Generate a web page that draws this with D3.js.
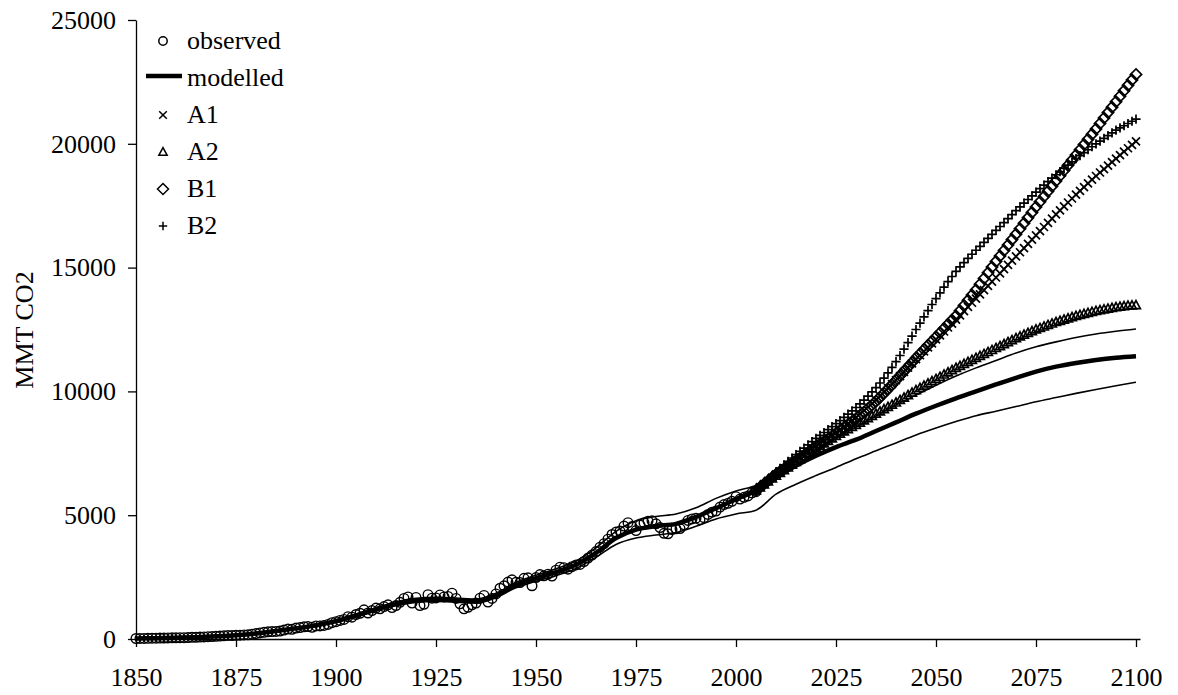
<!DOCTYPE html>
<html>
<head>
<meta charset="utf-8">
<script src="https://cdn.jsdelivr.net/npm/d3@7"></script>
<style>
body { margin: 0; background: #fff; }
text { font-family: "Liberation Serif", "Times New Roman", serif; }
</style>
</head>
<body>
<script>
// Observed emissions, one value per year starting 1850 (MMT CO2)
var observedStart = 1850;
var observed = [20,22,25,28,32,35,38,40,42,46,
    50,52,55,60,66,70,78,85,92,100,
    108,118,130,142,140,150,155,165,170,195,
    220,245,270,290,300,305,320,360,400,390,
    440,460,490,500,470,530,530,550,590,660,
    700,750,790,900,880,990,1040,1180,1050,1150,
    1250,1220,1310,1380,1270,1350,1480,1640,1700,1450,
    1680,1350,1400,1790,1650,1660,1780,1700,1720,1850,
    1640,1420,1220,1280,1380,1450,1650,1760,1490,1640,
    1820,2050,2150,2300,2390,2290,2280,2450,2470,2150,
    2480,2600,2550,2620,2540,2780,2900,2880,2820,2920,
    2990,3010,3130,3270,3390,3530,3710,3850,4030,4220,
    4320,4360,4560,4700,4540,4380,4600,4700,4760,4780,
    4650,4500,4270,4250,4420,4450,4460,4610,4790,4850,
    4880,4820,4900,5030,5120,5170,5330,5430,5480,5560,
    5750,5650,5720,5780,5900,5950];

// Modelled curve and its two bounds, every 5 years from 1850
var modelStart = 1850;
var modelStep = 5;
var modelled = [20,35,52,75,110,155,225,320,430,550,
    720,950,1200,1420,1560,1600,1570,1530,1760,2180,
    2450,2700,3000,3480,4080,4420,4560,4650,4930,5280,
    5650,6000,6550,7000,7400,7750,8050,8400,8750,9100,
    9420,9720,10000,10280,10550,10800,11000,11150,11270,11360,
    11420];
var upperBound = [25,40,58,82,120,168,242,342,458,585,
    765,1005,1265,1495,1640,1680,1650,1610,1850,2290,
    2570,2840,3150,3680,4350,4780,4950,5050,5300,5680,
    5980,6200,6650,7150,7650,8100,8550,9000,9450,9850,
    10250,10620,10950,11250,11550,11800,12000,12180,12320,12430,
    12520];
var lowerBound = [15,30,46,68,100,142,208,298,402,515,
    675,895,1135,1345,1480,1520,1490,1450,1670,2070,
    2330,2560,2850,3300,3820,4080,4200,4300,4550,4850,
    5050,5200,5850,6250,6600,6930,7280,7600,7920,8240,
    8520,8780,9020,9200,9390,9580,9750,9920,10080,10230,
    10370];

// Scenario projections, one value per year starting 2005
var scenarioStart = 2005;
var scenA1 = [6000,6130,6260,6390,6520, 6650,6770,6890,7010,7130,
    7250,7360,7470,7580,7690, 7800,7910,8020,8130,8240,
    8350,8470,8590,8710,8830, 8950,9090,9230,9370,9510,
    9650,9810,9970,10130,10290, 10450,10620,10790,10960,11130,
    11300,11460,11620,11780,11940, 12100,12260,12420,12580,12740,
    12900,13070,13240,13410,13580, 13750,13920,14090,14260,14430,
    14600,14770,14940,15110,15280, 15450,15620,15790,15960,16130,
    16300,16470,16640,16810,16980, 17150,17310,17470,17630,17790,
    17950,18100,18250,18400,18550, 18700,18840,18980,19120,19260,
    19400,19540,19680,19820,19960, 20100];
var scenA2 = [6000,6120,6240,6360,6480, 6600,6710,6820,6930,7040,
    7150,7260,7370,7480,7590, 7700,7800,7900,8000,8100,
    8200,8290,8380,8470,8560, 8650,8740,8830,8920,9010,
    9100,9190,9280,9370,9460, 9550,9650,9750,9850,9950,
    10050,10140,10230,10320,10410, 10500,10590,10680,10770,10860,
    10950,11030,11110,11190,11270, 11350,11430,11510,11590,11670,
    11750,11830,11910,11990,12070, 12150,12220,12290,12360,12430,
    12500,12560,12620,12680,12740, 12800,12850,12900,12950,13000,
    13050,13090,13130,13170,13210, 13250,13280,13310,13340,13370,
    13400,13420,13440,13460,13470, 13480];
var scenB1 = [6000,6130,6260,6390,6520, 6650,6760,6870,6980,7090,
    7200,7310,7420,7530,7640, 7750,7860,7970,8080,8190,
    8300,8420,8540,8660,8780, 8900,9030,9170,9310,9450,
    9600,9760,9930,10100,10270, 10450,10630,10810,10990,11170,
    11350,11520,11690,11860,12030, 12200,12370,12540,12710,12880,
    13050,13260,13470,13680,13890, 14100,14330,14560,14790,15020,
    15250,15470,15690,15910,16130, 16350,16570,16790,17010,17230,
    17450,17660,17870,18080,18290, 18500,18710,18920,19130,19340,
    19550,19760,19970,20180,20390, 20600,20820,21040,21260,21480,
    21700,21920,22140,22360,22580, 22800];
var scenB2 = [6000,6150,6300,6450,6600, 6750,6890,7030,7170,7310,
    7450,7580,7710,7840,7970, 8100,8220,8340,8460,8580,
    8700,8820,8950,9080,9210, 9350,9500,9650,9810,9980,
    10150,10340,10540,10750,10970, 11200,11450,11710,11970,12230,
    12500,12760,13010,13260,13510, 13750,13980,14210,14430,14640,
    14850,15030,15200,15370,15540, 15700,15860,16020,16180,16340,
    16500,16660,16820,16980,17140, 17300,17450,17600,17750,17900,
    18050,18190,18330,18470,18610, 18750,18880,19010,19140,19270,
    19400,19520,19640,19760,19880, 20000,20110,20220,20330,20440,
    20550,20640,20730,20820,20910, 21000];

// Axis ticks and legend labels
var xTicks = [1850, 1875, 1900, 1925, 1950, 1975, 2000, 2025, 2050, 2075, 2100];
var yTicks = [0, 5000, 10000, 15000, 20000, 25000];
var legendLabels = ["observed", "modelled", "A1", "A2", "B1", "B2"];

// Turn a list of values into {year, value} points
function toPoints(values, start, step) {
    return values.map(function(v, i) { return {year: start + i * step, value: v}; });
}

// Marker shapes drawn as stroked paths, h = half size
var markers = {
    circle: function(h) { return "M" + h + ",0A" + h + "," + h + " 0 1,1 " + (-h) + ",0A" + h + "," + h + " 0 1,1 " + h + ",0Z"; },
    cross: function(h) { return "M" + (-h) + "," + (-h) + "L" + h + "," + h + "M" + (-h) + "," + h + "L" + h + "," + (-h); },
    triangle: function(h) { return "M0," + (-h) + "L" + (h * 0.95) + "," + (h * 0.75) + "L" + (-h * 0.95) + "," + (h * 0.75) + "Z"; },
    diamond: function(h) { return "M0," + (-h) + "L" + h + ",0L0," + h + "L" + (-h) + ",0Z"; },
    plus: function(h) { return "M" + (-h) + ",0L" + h + ",0M0," + (-h) + "L0," + h; }
};

var width = 1178, height = 695;

var svg = d3.select("body").append("svg")
    .attr("width", width)
    .attr("height", height);

// Scales: plot area from x 136 to 1140, y 639 to 20
var x = d3.scaleLinear().domain([1850, 2101]).range([136, 1140]);
var y = d3.scaleLinear().domain([0, 25000]).range([639, 20]);

var line = d3.line()
    .x(function(d) { return x(d.year); })
    .y(function(d) { return y(d.value); })
    .curve(d3.curveMonotoneX);

// Thin bound lines
[upperBound, lowerBound].forEach(function(vals) {
    svg.append("path")
        .datum(toPoints(vals, modelStart, modelStep))
        .attr("fill", "none")
        .attr("stroke", "#000")
        .attr("stroke-width", 1.6)
        .attr("d", line);
});

// Observed circles
svg.append("g")
    .selectAll("path")
    .data(toPoints(observed, observedStart, 1))
    .enter()
    .append("path")
        .attr("transform", function(d) { return "translate(" + x(d.year) + "," + y(d.value) + ")"; })
        .attr("d", markers.circle(4.8))
        .attr("fill", "none")
        .attr("stroke", "#000")
        .attr("stroke-width", 1.4);

// Modelled thick line
svg.append("path")
    .datum(toPoints(modelled, modelStart, modelStep))
    .attr("fill", "none")
    .attr("stroke", "#000")
    .attr("stroke-width", 4.5)
    .attr("d", line);

// Scenario markers
var scenarios = [
    {values: scenA1, shape: "cross", size: 4},
    {values: scenA2, shape: "triangle", size: 4.6},
    {values: scenB1, shape: "diamond", size: 5.6},
    {values: scenB2, shape: "plus", size: 4.6}
];
scenarios.forEach(function(s) {
    svg.append("g")
        .selectAll("path")
        .data(toPoints(s.values, scenarioStart, 1))
        .enter()
        .append("path")
            .attr("transform", function(d) { return "translate(" + x(d.year) + "," + y(d.value) + ")"; })
            .attr("d", markers[s.shape](s.size))
            .attr("fill", "none")
            .attr("stroke", "#000")
            .attr("stroke-width", 1.7);
});

// Y axis
var yAxis = svg.append("g")
    .attr("transform", "translate(136,0)")
    .call(d3.axisLeft(y).tickValues(yTicks).tickFormat(d3.format("d")).tickSize(8).tickSizeOuter(0).tickPadding(12));

// X axis
var xAxis = svg.append("g")
    .attr("transform", "translate(0,639)")
    .call(d3.axisBottom(x).tickValues(xTicks).tickFormat(d3.format("d")).tickSize(8).tickSizeOuter(0).tickPadding(21));

[yAxis, xAxis].forEach(function(a) {
    a.attr("font-family", null).attr("font-size", null);
    a.selectAll("path, line").attr("stroke", "#000").attr("stroke-width", 1.3);
    a.selectAll("text").attr("fill", "#000").style("font-size", "26px");
});

// Y axis title
svg.append("text")
    .attr("transform", "translate(33,330) rotate(-90)")
    .style("text-anchor", "middle")
    .style("font-size", "26px")
    .text("MMT CO2");

// Legend
var legendTop = 41, legendGap = 37, legendX = 163;
var legendShapes = ["circle", "line", "cross", "triangle", "diamond", "plus"];
var legendSizes = [4.2, 0, 3.8, 4.4, 5.5, 4.2];
var legend = svg.append("g");
legendLabels.forEach(function(label, i) {
    var ly = legendTop + i * legendGap;
    if (legendShapes[i] == "line") {
        legend.append("line")
            .attr("x1", legendX - 17).attr("x2", legendX + 19)
            .attr("y1", ly - 2).attr("y2", ly - 2)
            .attr("stroke", "#000")
            .attr("stroke-width", 4.5);
    } else {
        legend.append("path")
            .attr("transform", "translate(" + legendX + "," + ly + ")")
            .attr("d", markers[legendShapes[i]](legendSizes[i]))
            .attr("fill", "none")
            .attr("stroke", "#000")
            .attr("stroke-width", 1.5);
    }
    legend.append("text")
        .attr("x", legendX + 24)
        .attr("y", ly + 8)
        .style("font-size", "26px")
        .text(label);
});
</script>
</body>
</html>
